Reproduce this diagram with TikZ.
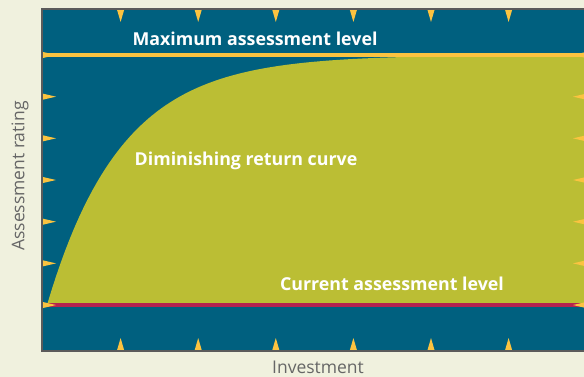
\documentclass[tikz,border=0pt]{standalone}
\usepackage{fontspec}
\setmainfont{Open Sans}
\usepackage{tikz}
\usetikzlibrary{positioning}
\definecolor{cream}{HTML}{F0F1DE}
\definecolor{frameblue}{HTML}{00607F}
\definecolor{curveolive}{HTML}{BBBE34}
\definecolor{maxyellow}{HTML}{FBC340}
\definecolor{curred}{HTML}{B4234F}
\definecolor{framegray}{HTML}{5B5B5B}
\definecolor{axisgray}{HTML}{666666}

\begin{document}
\begin{tikzpicture}[x=1pt, y=-1pt, line width=0.5pt,
        tick/.style={fill=maxyellow, draw=none},
        level/.style={line width=4pt},
        label/.style={text=white, font=\bfseries\fontsize{17.8}{20}\selectfont},
        axis/.style={text=axisgray, font=\fontsize{17.5}{20}\selectfont}]
            \fill[cream] (0,0) rectangle (584,377);
            \useasboundingbox (0,0) rectangle (584,377);
            \fill[frameblue] (42,9) rectangle (590,351);
            % area under the curve
            \fill[curveolive] (47,305) -- plot[domain=47:590, samples=120]
                (\x, {305-250*(1-exp(-(\x-47)/74))}) -- (590,305) -- cycle;
            \draw[level, maxyellow] (42,55) -- (590,55);
            \draw[level, curred] (42,305) -- (590,305);
            % ticks
            \foreach \i in {1,...,6} {
                \fill[tick] ({43+77.6*\i-3.5},10) -- ({43+77.6*\i+3.5},10) -- ({43+77.6*\i},22) -- cycle;
                \fill[tick] ({43+77.6*\i-3.5},350) -- ({43+77.6*\i+3.5},350) -- ({43+77.6*\i},338) -- cycle;
            }
            \foreach \j in {0,...,6} {
                \fill[tick] (43,{55+41.67*\j-3}) -- (43,{55+41.67*\j+3}) -- (56,{55+41.67*\j}) -- cycle;
                \fill[tick] (586,{55+41.67*\j-3}) -- (586,{55+41.67*\j+3}) -- (573,{55+41.67*\j}) -- cycle;
            }
            \draw[framegray, line width=2pt] (590,9) -- (42,9) -- (42,351) -- (590,351);

            \node[label] (maxlevel) at (255,39) {Maximum assessment level};
            \node[label] (curve) at (246,161) {Diminishing return curve};
            \node[label] (curlevel) at (392,284) {Current assessment level};
            \node[axis, rotate=90] (rating) at (20,176) {Assessment rating};
            \node[axis] (invest) at (318,367) {Investment};
        \end{tikzpicture}
\end{document}
